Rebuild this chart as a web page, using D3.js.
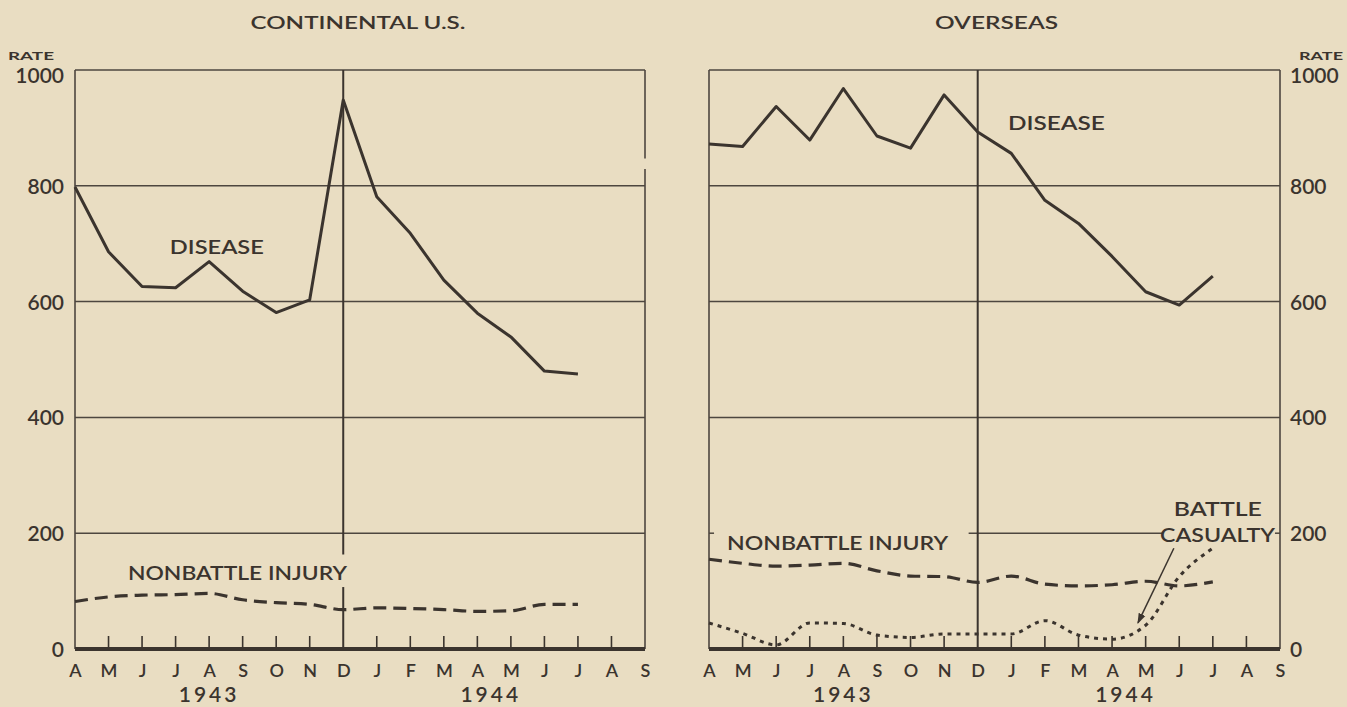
<!DOCTYPE html>
<html><head><meta charset="utf-8">
<script src="https://cdn.jsdelivr.net/npm/d3@7"></script>
<style>
html,body{margin:0;padding:0;background:#e9ddc2;}
svg{display:block;}
text{font-family:Lato,"DejaVu Sans",sans-serif;font-weight:600;fill:#3b342e;}
</style></head><body>
<svg id="chart" width="1347" height="707"></svg>
<script>
// ---- data ----
const months = ["A","M","J","J","A","S","O","N","D","J","F","M","A","M","J","J","A","S"];
const years = ["1943","1944"];
const yearPos = [4, 12.4];
const rateTicks = [0,200,400,600,800,1000];
const contDisease   = [798,686,626,624,669,618,581,603,948,781,718,637,580,539,480,475];
const contNonbattle = [82,90,93,94,96,85,80,77,68,71,70,68,65,66,77,77];
const overDisease   = [872,868,937,879,968,886,865,957,893,856,775,735,678,617,594,644];
const overNonbattle = [155,148,143,145,148,135,126,125,115,126,112,109,111,117,109,116];
const overBattle    = [45,27,7,45,44,24,20,26,26,26,49,24,17,41,125,174];

const INK = "#3b342e", GRID = "#4d463f";
const FONT = "Lato,'DejaVu Sans',sans-serif";
const svg = d3.select("#chart");
const y = d3.scaleLinear().domain([0,1000]).range([649,70]);

const panels = [
  {title:"CONTINENTAL U.S.", x0:75, x1:645, side:"left",
   series:[{v:contDisease,type:"solid"},{v:contNonbattle,type:"dash"}],
   labels:[{t:"DISEASE",i:2.83,val:682,len:94,anchor:"start"},
           {t:"NONBATTLE INJURY",i:1.58,val:119,len:219,anchor:"start"}]},
  {title:"OVERSEAS", x0:709, x1:1280, side:"right",
   series:[{v:overDisease,type:"solid"},{v:overNonbattle,type:"dash"},{v:overBattle,type:"dot"}],
   labels:[{t:"DISEASE",i:8.9,val:896,len:97,anchor:"start"},
           {t:"NONBATTLE INJURY",i:0.54,val:171,len:221,anchor:"start"},
           {t:"BATTLE",i:15.15,val:230,len:88,anchor:"middle"},
           {t:"CASUALTY",i:15.14,val:185,len:115,anchor:"middle"}]}
];

svg.append("defs").append("marker")
  .attr("id","arrow").attr("viewBox","0 0 10 10").attr("refX",9).attr("refY",5)
  .attr("markerWidth",7).attr("markerHeight",9).attr("orient","auto")
  .append("path").attr("d","M0,1.5 L10,5 L0,8.5 Z").attr("fill",INK);

function hline(g, x1, x2, yy, w, c){
  g.append("line").attr("x1",x1).attr("x2",x2).attr("y1",yy).attr("y2",yy)
   .attr("stroke",c||GRID).attr("stroke-width",w||1.5);
}
function vline(g, xx, y1, y2, w, c){
  g.append("line").attr("x1",xx).attr("x2",xx).attr("y1",y1).attr("y2",y2)
   .attr("stroke",c||GRID).attr("stroke-width",w||1.6);
}

panels.forEach((p,pi)=>{
  const x = d3.scaleLinear().domain([0,months.length-1]).range([p.x0,p.x1]);
  const g = svg.append("g");

  // horizontal grid lines
  rateTicks.filter(t=>t>0 && t<1000).forEach(t=>{
    if (pi===1 && t===200) {
      hline(g, x(0), x(0.15), y(t));
      hline(g, x(7.73), x(13.5), y(t));
      hline(g, x(16.85), x(17), y(t));
    } else {
      hline(g, x(0), x(17), y(t));
    }
  });
  // frame
  hline(g, x(0), x(17), y(1000), 1.6);
  vline(g, x(0), y(1000), y(0));
  if (pi===0) {
    vline(g, x(17), y(1000), y(847));
    vline(g, x(17), y(829), y(0));
  } else {
    vline(g, x(17), y(1000), y(0));
  }
  // December divider
  if (pi===0) {
    vline(g, x(8), y(1000), y(163), 2, INK);
    vline(g, x(8), y(107), y(0), 2, INK);
  } else {
    vline(g, x(8), y(1000), y(0), 2, INK);
  }
  // month ticks
  d3.range(1,17).filter(i=>i!==8).forEach(i=>{
    vline(g, x(i), y(0), y(0)-13, 1.6, INK);
  });
  // baseline
  hline(g, x(0), x(17), y(0), 4, INK);

  // y axis
  const ax = p.side==="left" ? d3.axisLeft(y) : d3.axisRight(y);
  const ag = svg.append("g").attr("transform",`translate(${p.side==="left"?x(0):x(17)},0)`)
    .call(ax.tickValues(rateTicks).tickFormat(d3.format("d")).tickSize(0).tickPadding(p.side==="left"?11:10));
  ag.select(".domain").remove();
  ag.selectAll("text").style("font-family",FONT).style("font-weight","600").style("font-size","21px")
    .attr("fill",INK).attr("dy", d=> d===1000 ? "0.6em" : "0.36em");
  // RATE
  svg.append("text").text("RATE")
    .attr("x", p.side==="left" ? 8 : 1299).attr("y",60)
    .attr("textLength", p.side==="left"?46:44).attr("lengthAdjust","spacingAndGlyphs")
    .style("font-size","12px").style("font-weight","700");

  // x axis
  const bx = svg.append("g").attr("transform",`translate(0,${y(0)})`)
    .call(d3.axisBottom(x).tickValues(d3.range(months.length)).tickFormat(i=>months[i]).tickSize(0));
  bx.select(".domain").remove();
  bx.selectAll("text").style("font-family",FONT).style("font-weight","600").style("font-size","18px")
    .attr("fill",INK).attr("y",28).attr("dy",0);
  years.forEach((yr,k)=>{
    svg.append("text").text(yr).attr("x",x(yearPos[k])).attr("y",702)
      .attr("text-anchor","middle").style("font-size","21px").style("letter-spacing","3px");
  });

  // title
  svg.append("text").text(p.title).attr("x",(p.x0+p.x1)/2 - (pi===0?2:-2)).attr("y",29)
    .attr("text-anchor","middle").style("font-size","18px")
    .attr("textLength", pi===0?215:123).attr("lengthAdjust","spacingAndGlyphs");

  // data lines
  p.series.forEach(s=>{
    const line = d3.line().x((d,i)=>x(i)).y(d=>y(d))
      .curve(s.type==="solid" ? d3.curveLinear : d3.curveMonotoneX);
    const path = svg.append("path").datum(s.v).attr("d",line).attr("fill","none")
      .attr("stroke",INK).attr("stroke-linejoin","round");
    if (s.type==="solid") path.attr("stroke-width",3);
    if (s.type==="dash") path.attr("stroke-width",3.2).attr("stroke-dasharray","13 7");
    if (s.type==="dot") path.attr("stroke-width",3).attr("stroke-dasharray","4 5");
  });

  // labels
  p.labels.forEach(l=>{
    svg.append("text").text(l.t).attr("x",x(l.i)).attr("y",y(l.val))
      .attr("text-anchor",l.anchor).style("font-size","20px")
      .attr("textLength",l.len).attr("lengthAdjust","spacingAndGlyphs");
  });

  if (pi===1) {
    svg.append("line").attr("x1",x(13.84)).attr("y1",y(174)).attr("x2",x(12.77)).attr("y2",y(45))
      .attr("stroke",INK).attr("stroke-width",1.5).attr("marker-end","url(#arrow)");
  }
});
</script>
</body></html>
